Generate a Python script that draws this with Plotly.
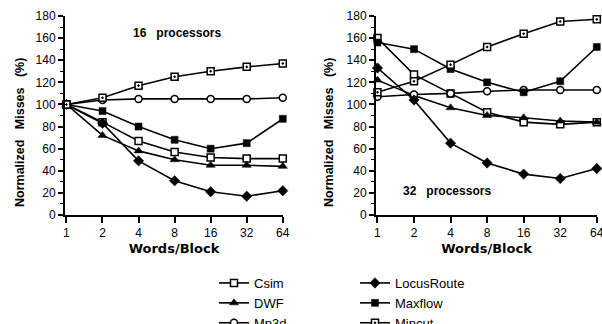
import plotly.graph_objects as go

# ---------------- data ----------------
words_per_block = [1, 2, 4, 8, 16, 32, 64]

# 16 processors (left panel)
csim_16 = [100, 84, 67, 57, 52, 51, 51]
dwf_16 = [100, 72, 58, 50, 45, 45, 44]
mp3d_16 = [100, 104, 105, 105, 105, 105, 106]
locus_16 = [100, 83, 49, 31, 21, 17, 22]
maxflow_16 = [100, 94, 80, 68, 60, 65, 87]
mincut_16 = [100, 106, 117, 125, 130, 134, 137]

# 32 processors (right panel)
csim_32 = [160, 127, 110, 93, 84, 82, 84]
dwf_32 = [122, 108, 97, 90, 88, 85, 84]
mp3d_32 = [107, 109, 110, 112, 113, 113, 113]
locus_32 = [133, 104, 65, 47, 37, 33, 42]
maxflow_32 = [156, 150, 132, 120, 111, 121, 152]
mincut_32 = [111, 121, 136, 152, 164, 175, 177]

x_ticks = [1, 2, 4, 8, 16, 32, 64]
y_ticks = [0, 20, 40, 60, 80, 100, 120, 140, 160, 180]

series = [
    ("Csim", csim_16, csim_32, dict(symbol="square", color="white", size=7, line=dict(color="black", width=1.5)), "legend"),
    ("DWF", dwf_16, dwf_32, dict(symbol="triangle-up", color="black", size=8, line=dict(color="black", width=0.5)), "legend"),
    ("Mp3d", mp3d_16, mp3d_32, dict(symbol="circle", color="white", size=7, line=dict(color="black", width=1.5)), "legend"),
    ("LocusRoute", locus_16, locus_32, dict(symbol="diamond", color="black", size=8, line=dict(color="black", width=0.5)), "legend2"),
    ("Maxflow", maxflow_16, maxflow_32, dict(symbol="square", color="black", size=7, line=dict(color="black", width=0.5)), "legend2"),
    ("Mincut", mincut_16, mincut_32, dict(symbol="square-dot", color="white", size=7, line=dict(color="black", width=1.5)), "legend2"),
]

FONT = "Liberation Sans, Arial, Helvetica, sans-serif"

fig = go.Figure()
for name, v16, v32, mk, lg in series:
    fig.add_trace(go.Scatter(
        x=words_per_block, y=v16, name=name, mode="lines+markers",
        line=dict(color="black", width=1.6), marker=mk, cliponaxis=False,
        legend=lg, showlegend=True, xaxis="x", yaxis="y", legendgroup=name,
    ))
    fig.add_trace(go.Scatter(
        x=words_per_block, y=v32, name=name, mode="lines+markers",
        line=dict(color="black", width=1.6), marker=mk, cliponaxis=False,
        showlegend=False, xaxis="x2", yaxis="y2", legendgroup=name,
    ))

W, H = 602, 324

def px_x(p):
    return p / W

def px_y(p):
    return (H - p) / H

xcommon = dict(
    type="log", range=[-0.012, 1.808], tickvals=x_ticks, ticktext=[str(v) for v in x_ticks],
    showline=True, linecolor="black", linewidth=2, ticks="outside", ticklen=6, tickwidth=1.5,
    tickcolor="black", showgrid=False, zeroline=False, ticklabeloverflow="allow",
    tickfont=dict(family=FONT, size=12, color="black"),
    title=dict(text="<b>Words/Block</b>", font=dict(family="DejaVu Sans, sans-serif", size=13, color="black"),
               standoff=4),
)
ycommon = dict(
    range=[0, 180], tickvals=y_ticks, showline=True, linecolor="black", linewidth=2,
    ticks="outside", ticklen=5, tickwidth=1.5, tickcolor="black", showgrid=False, zeroline=False,
    tickfont=dict(family=FONT, size=12, color="black"),
    minor=dict(dtick=10, ticks="outside", ticklen=3, tickcolor="black", tickwidth=1),
    domain=[px_y(215), px_y(16)],
)

ann_font = dict(family=FONT, size=12.5, color="black")

fig.update_layout(
    width=W, height=H, margin=dict(l=0, r=0, t=0, b=0, autoexpand=False),
    paper_bgcolor="white", plot_bgcolor="white",
    xaxis=dict(domain=[px_x(65), px_x(283)], anchor="y", **xcommon),
    yaxis=dict(anchor="x", **ycommon),
    xaxis2=dict(domain=[px_x(376), px_x(597)], anchor="y2", **xcommon),
    yaxis2=dict(anchor="x2", **ycommon),
    legend=dict(x=px_x(214), y=px_y(268), xanchor="left", yanchor="top",
                font=dict(family=FONT, size=13, color="black"), bgcolor="rgba(0,0,0,0)",
                tracegroupgap=0, itemwidth=30),
    legend2=dict(x=px_x(355), y=px_y(268), xanchor="left", yanchor="top",
                 font=dict(family=FONT, size=13, color="black"), bgcolor="rgba(0,0,0,0)",
                 tracegroupgap=0, itemwidth=30),
    annotations=[
        dict(text="<b>16\u00a0\u00a0 processors</b>", x=px_x(177), y=px_y(33), xref="paper", yref="paper",
             xanchor="center", yanchor="middle", showarrow=False, font=dict(family=FONT, size=12, color="black")),
        dict(text="<b>32\u00a0\u00a0 processors</b>", x=px_x(447), y=px_y(191), xref="paper", yref="paper",
             xanchor="center", yanchor="middle", showarrow=False, font=dict(family=FONT, size=12, color="black")),
        dict(text="<b>Normalized\u00a0\u00a0 Misses\u00a0\u00a0 (%)</b>", x=px_x(20), y=px_y(133), xref="paper", yref="paper",
             xanchor="center", yanchor="middle", showarrow=False, textangle=-90, font=ann_font),
        dict(text="<b>Normalized\u00a0\u00a0 Misses\u00a0\u00a0 (%)</b>", x=px_x(329), y=px_y(133), xref="paper", yref="paper",
             xanchor="center", yanchor="middle", showarrow=False, textangle=-90, font=ann_font),
    ],
)

fig.write_html("out.html")
